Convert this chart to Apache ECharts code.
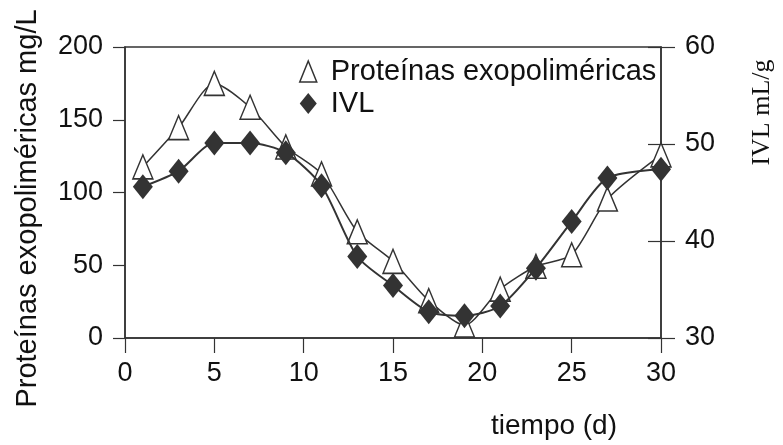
<!DOCTYPE html>
<html>
<head>
<meta charset="utf-8">
<script src="https://cdn.jsdelivr.net/npm/echarts@6/dist/echarts.min.js"></script>
<style>html,body{margin:0;padding:0;background:#fff;}#c{width:783px;height:445px;}</style>
</head>
<body>
<div id="c"></div>
<script>
const days = [1, 3, 5, 7, 9, 11, 13, 15, 17, 19, 21, 23, 25, 27, 30];
const proteinas = [117.6, 144.6, 175, 158.6, 131.3, 112.8, 73, 52.7, 25.7, 8.8, 33.6, 49.3, 57.2, 95.5, 125.9];
const ivl = [45.6, 47.2, 50.1, 50.1, 49.1, 45.7, 38.4, 35.4, 32.7, 32.3, 33.3, 37.2, 42.0, 46.5, 47.4];
const xTicks = [0, 5, 10, 15, 20, 25, 30];
const leftTicks = [0, 50, 100, 150, 200];
const rightTicks = [30, 40, 50, 60];
const seriesNames = ['Proteínas exopoliméricas', 'IVL'];
const xName = 'tiempo (d)';
const leftName = 'Proteínas exopoliméricas mg/L';
const rightName = 'IVL mL/g';

const FONT = 'Liberation Sans, Arial, Helvetica, sans-serif';
const DARK = '#333333';
const chart = echarts.init(document.getElementById('c'), null, {renderer: 'canvas'});

const pairs = (xs, ys) => xs.map((x, i) => [x, ys[i]]);

chart.setOption({
  animation: false,
  backgroundColor: '#ffffff',
  grid: {left: 125, right: 109, top: 47, bottom: 102, show: true, borderColor: DARK, borderWidth: 1.5, backgroundColor: 'transparent'},
  legend: {
    orient: 'vertical', left: 294, top: 52, itemGap: 3, itemWidth: 17, itemHeight: 21,
    textStyle: {fontFamily: FONT, fontSize: 29, color: '#111', padding: [0, 0, 0, 9]},
    data: [
      {name: seriesNames[0], icon: 'triangle', itemStyle: {color: '#fff', borderColor: DARK, borderWidth: 1.5}},
      {name: seriesNames[1], icon: 'diamond', itemStyle: {color: DARK, borderColor: DARK, borderWidth: 0}}
    ]
  },
  xAxis: {
    type: 'value', min: xTicks[0], max: xTicks[xTicks.length - 1], interval: 5,
    name: xName, nameLocation: 'middle', nameGap: 74,
    nameTextStyle: {fontFamily: FONT, fontSize: 28, color: '#111', padding: [0, 0, 0, 322]},
    axisLine: {show: true, lineStyle: {color: DARK, width: 1.5}},
    axisTick: {show: true, length: 15, lineStyle: {color: DARK, width: 1.2}},
    axisLabel: {fontFamily: FONT, fontSize: 27, color: '#111', margin: 22},
    splitLine: {show: false}
  },
  yAxis: [
    {
      type: 'value', position: 'left', min: leftTicks[0], max: leftTicks[leftTicks.length - 1], interval: 50,
      name: leftName, nameLocation: 'middle', nameRotate: 90, nameGap: 83,
      nameTextStyle: {fontFamily: FONT, fontSize: 29, color: '#111', padding: [0, 32, 0, 0]},
      axisLine: {show: true, lineStyle: {color: DARK, width: 1.5}},
      axisTick: {show: true, length: 12, lineStyle: {color: DARK, width: 1.2}},
      axisLabel: {fontFamily: FONT, fontSize: 27, color: '#111', margin: 22},
      splitLine: {show: false}
    },
    {
      type: 'value', position: 'right', min: rightTicks[0], max: rightTicks[rightTicks.length - 1], interval: 10,
      name: rightName, nameLocation: 'middle', nameRotate: 90, nameGap: 88,
      nameTextStyle: {fontFamily: 'Liberation Serif, Times New Roman, serif', fontSize: 26, color: '#111', padding: [0, 0, 0, 160]},
      axisLine: {show: true, lineStyle: {color: DARK, width: 1.5}},
      axisTick: {show: true, length: 14, lineStyle: {color: DARK, width: 1.2}},
      axisLabel: {fontFamily: FONT, fontSize: 27, color: '#111', margin: 24},
      splitLine: {show: false}
    },
    {
      type: 'value', position: 'right', min: rightTicks[0], max: rightTicks[rightTicks.length - 1], interval: 10,
      axisLine: {show: false},
      axisTick: {show: true, inside: true, length: 13, lineStyle: {color: DARK, width: 1.2}},
      axisLabel: {show: false},
      splitLine: {show: false}
    }
  ],
  series: [
    {
      name: seriesNames[0], type: 'line', xAxisIndex: 0, yAxisIndex: 0,
      data: pairs(days, proteinas), smooth: 0.25,
      symbol: 'triangle', symbolSize: [20, 24],
      lineStyle: {color: DARK, width: 1.5},
      itemStyle: {color: '#fff', borderColor: DARK, borderWidth: 1.5},
      z: 2
    },
    {
      name: seriesNames[1], type: 'line', xAxisIndex: 0, yAxisIndex: 1,
      data: pairs(days, ivl), smooth: 0.25,
      symbol: 'diamond', symbolSize: [20, 25],
      lineStyle: {color: DARK, width: 2},
      itemStyle: {color: DARK, borderColor: DARK, borderWidth: 0},
      z: 3
    }
  ]
});
</script>
</body>
</html>
